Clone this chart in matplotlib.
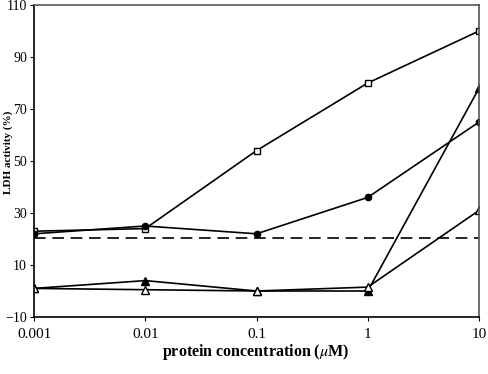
import matplotlib
matplotlib.use("Agg")
import matplotlib.pyplot as plt

conc = [0.001, 0.01, 0.1, 1, 10]
open_squares = [23, 24, 54, 80, 100]
filled_circles = [22, 25, 22, 36, 65]
filled_triangles = [1, 4, 0, 0, 78]
open_triangles = [1, 0.5, 0, 1.5, 31]
baseline = 20.5

xticks = [0.001, 0.01, 0.1, 1, 10]
xticklabels = ["0.001", "0.01", "0.1", "1", "10"]
yticks = [-10, 10, 30, 50, 70, 90, 110]

plt.rcParams['font.family'] = ['Liberation Serif', 'DejaVu Serif']
plt.rcParams['mathtext.fontset'] = 'stix'

fig = plt.figure(figsize=(4.88, 3.74), dpi=100)
ax = fig.add_axes([0.0697, 0.1524, 0.9119, 0.8342])

lw = 1.2
ax.plot(conc, open_squares, color='black', lw=lw, marker='s', ms=4.5, mfc='white', mec='black', mew=1)
ax.plot(conc, filled_circles, color='black', lw=lw, marker='o', ms=4.5, mfc='black', mec='black')
ax.plot(conc, filled_triangles, color='black', lw=lw, marker='^', ms=5.5, mfc='black', mec='black')
ax.plot(conc, open_triangles, color='black', lw=lw, marker='^', ms=5.5, mfc='white', mec='black', mew=1)
ax.axhline(baseline, color='black', lw=1.2, ls=(0, (7, 4)))

ax.set_xscale('log')
ax.set_xlim(0.001, 10)
ax.set_ylim(-10, 110)
ax.set_xticks(xticks)
ax.set_xticklabels(xticklabels)
ax.minorticks_off()
ax.set_yticks(yticks)
ax.tick_params(axis='x', length=3, direction='out', labelsize=11, pad=5)
ax.tick_params(axis='y', length=3, direction='out', labelsize=10, pad=2)

for s in ['left', 'bottom']:
    ax.spines[s].set_color('black')
    ax.spines[s].set_linewidth(1.2)
for s in ['top', 'right']:
    ax.spines[s].set_color('#555555')
    ax.spines[s].set_linewidth(1.2)

fig.text(0.017, 0.594, "LDH activity (%)", rotation=90, ha='center', va='center',
         fontsize=8, fontweight='bold')
fig.text(0.525, 0.058, r"protein concentration ($\mu$M)", ha='center', va='center',
         fontsize=11.5, fontweight='bold')

fig.savefig("out.png", dpi=100)
